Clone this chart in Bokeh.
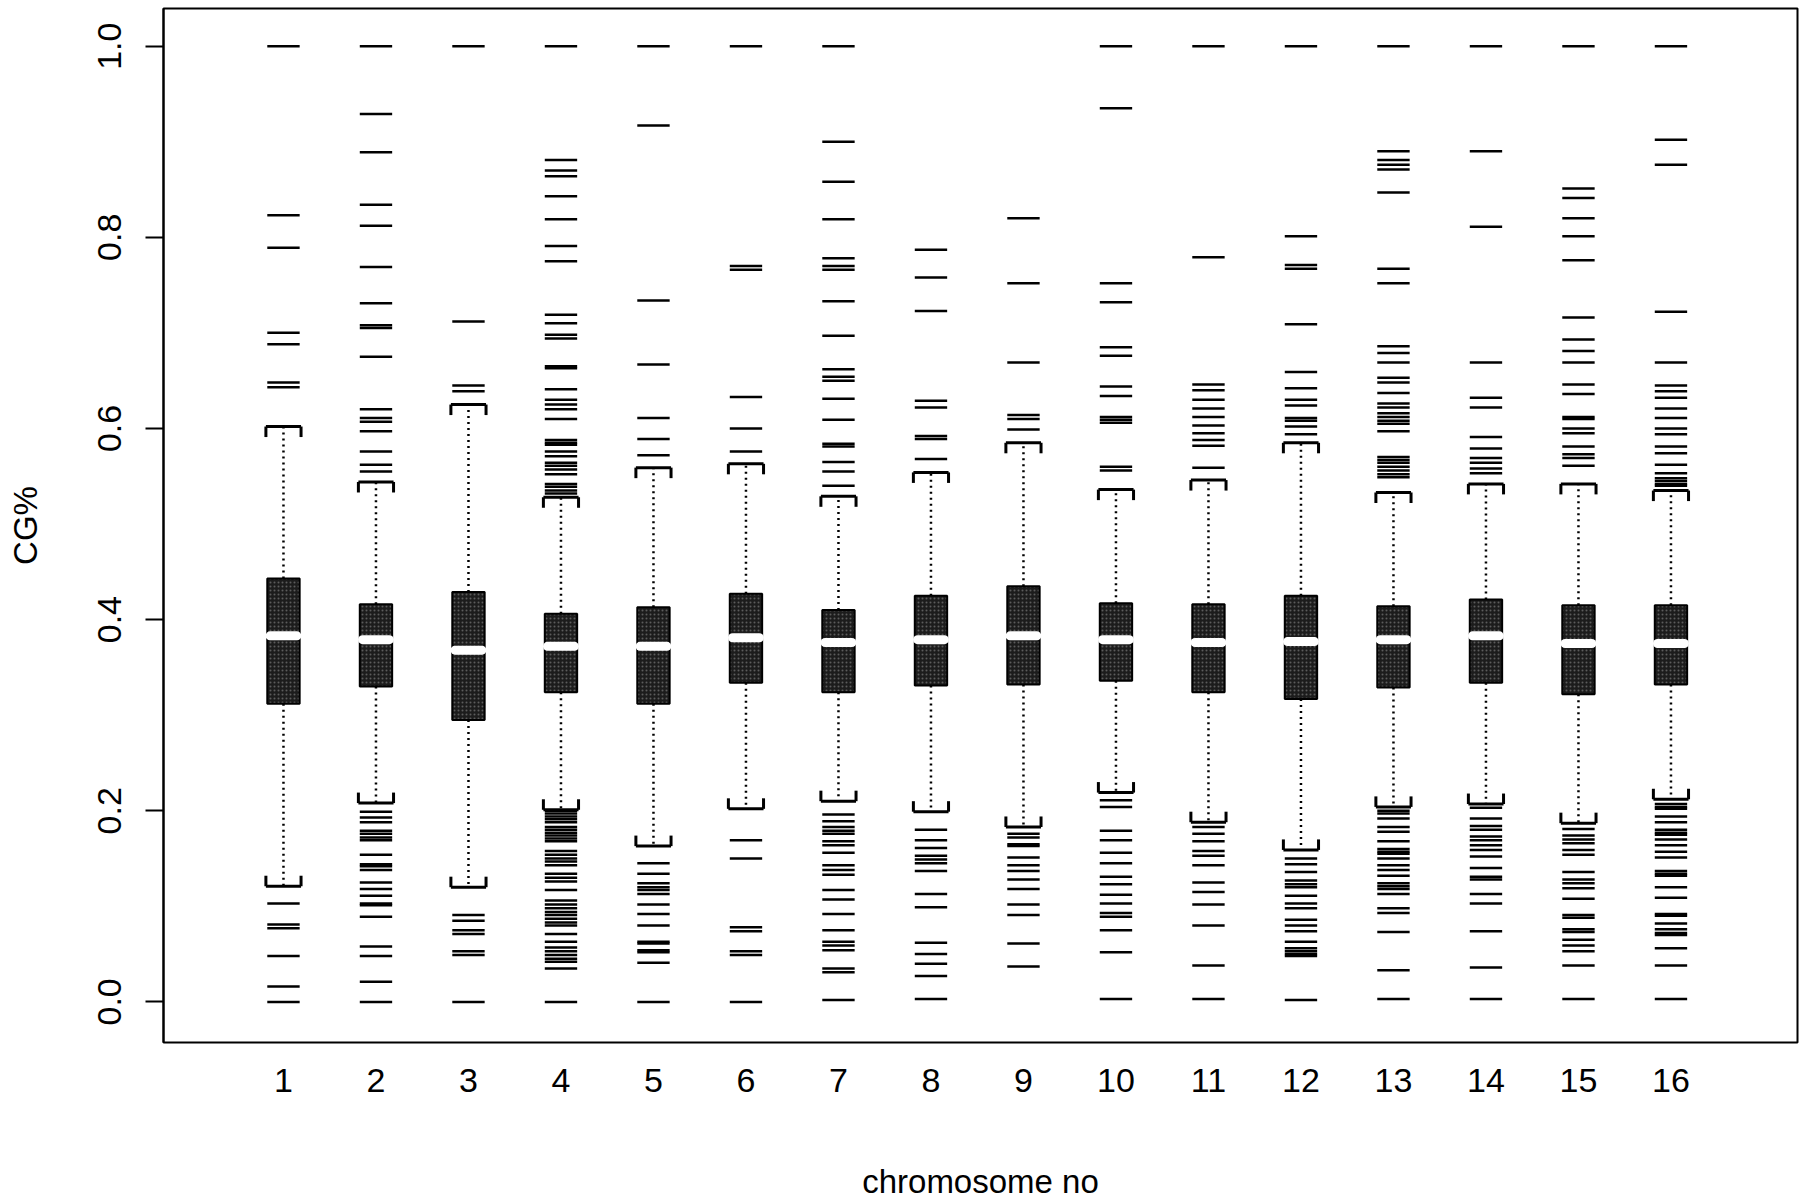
from bokeh.plotting import figure
from bokeh.models import Range1d, FixedTicker, PrintfTickFormatter
from bokeh.embed import file_html
from bokeh.resources import INLINE

# ---------------- data ----------------
chroms = list(range(1, 17))
q3 = [0.443, 0.416, 0.429, 0.406, 0.413, 0.427, 0.410, 0.425,
      0.435, 0.417, 0.416, 0.425, 0.414, 0.421, 0.415, 0.415]
median = [0.383, 0.379, 0.368, 0.372, 0.372, 0.381, 0.376, 0.379,
          0.383, 0.379, 0.376, 0.377, 0.379, 0.383, 0.375, 0.375]
q1 = [0.312, 0.330, 0.295, 0.324, 0.312, 0.334, 0.324, 0.331,
      0.332, 0.336, 0.324, 0.317, 0.329, 0.334, 0.322, 0.332]
upper_whisker = [0.602, 0.544, 0.625, 0.528, 0.559, 0.563, 0.529, 0.554,
                 0.585, 0.536, 0.546, 0.585, 0.533, 0.542, 0.542, 0.535]
lower_whisker = [0.121, 0.208, 0.120, 0.201, 0.163, 0.202, 0.210, 0.199,
                 0.183, 0.219, 0.188, 0.159, 0.204, 0.207, 0.187, 0.212]

out1 = [1.0, 0.823, 0.789, 0.700, 0.688, 0.648, 0.643,
        0.103, 0.081, 0.077, 0.048, 0.016, 0.0]
out2 = [1.0, 0.929, 0.889, 0.834, 0.812, 0.769, 0.731, 0.708, 0.705, 0.675, 0.620,
        0.611, 0.607, 0.597, 0.576, 0.562, 0.555,
        0.199, 0.193, 0.188, 0.179, 0.176, 0.172, 0.169, 0.154, 0.144, 0.142, 0.138,
        0.125, 0.118, 0.111, 0.103, 0.101, 0.089, 0.058, 0.048, 0.021, 0.0]
out3 = [1.0, 0.712, 0.645, 0.639,
        0.091, 0.085, 0.075, 0.071, 0.053, 0.049, 0.0]
out4 = [1.0, 0.881, 0.870, 0.864, 0.843, 0.819, 0.791, 0.775, 0.719, 0.710, 0.698,
        0.694, 0.665, 0.663, 0.641, 0.630, 0.625, 0.620, 0.610, 0.588, 0.585, 0.583,
        0.576, 0.571, 0.564, 0.561, 0.557, 0.552, 0.542, 0.539, 0.535, 0.532,
        0.200, 0.197, 0.194, 0.191, 0.188, 0.183, 0.180, 0.177, 0.174, 0.171, 0.168,
        0.158, 0.154, 0.150, 0.147, 0.143, 0.134, 0.130, 0.126, 0.117, 0.106, 0.102,
        0.098, 0.094, 0.091, 0.087, 0.083, 0.080, 0.071, 0.063, 0.057, 0.053, 0.049,
        0.045, 0.042, 0.035, 0.0]
out5 = [1.0, 0.917, 0.734, 0.667, 0.611, 0.589, 0.572,
        0.145, 0.134, 0.124, 0.120, 0.117, 0.113, 0.102, 0.092, 0.080, 0.063, 0.061,
        0.054, 0.052, 0.041, 0.0]
out6 = [1.0, 0.770, 0.766, 0.633, 0.600, 0.576,
        0.169, 0.150, 0.078, 0.074, 0.053, 0.049, 0.0]
out7 = [1.0, 0.900, 0.858, 0.819, 0.778, 0.770, 0.766, 0.733, 0.697, 0.662, 0.654,
        0.650, 0.631, 0.609, 0.584, 0.581, 0.565, 0.555, 0.540,
        0.196, 0.189, 0.183, 0.179, 0.176, 0.168, 0.164, 0.156, 0.143, 0.138, 0.133,
        0.117, 0.107, 0.092, 0.075, 0.063, 0.059, 0.054, 0.035, 0.031, 0.002]
out8 = [0.787, 0.758, 0.723, 0.629, 0.622, 0.592, 0.589, 0.568,
        0.180, 0.169, 0.161, 0.153, 0.149, 0.145, 0.137, 0.113, 0.099, 0.062, 0.050,
        0.040, 0.027, 0.003]
out9 = [0.820, 0.752, 0.669, 0.614, 0.610, 0.599,
        0.176, 0.172, 0.165, 0.163, 0.151, 0.143, 0.137, 0.128, 0.118, 0.102, 0.091,
        0.061, 0.037]
out10 = [1.0, 0.935, 0.752, 0.732, 0.685, 0.676, 0.644, 0.634, 0.612, 0.609, 0.606,
         0.560, 0.556,
         0.211, 0.204, 0.179, 0.169, 0.156, 0.145, 0.131, 0.123, 0.112, 0.103, 0.093,
         0.089, 0.075, 0.052, 0.003]
out11 = [1.0, 0.779, 0.646, 0.640, 0.630, 0.621, 0.612, 0.603, 0.595, 0.588, 0.582,
         0.559,
         0.183, 0.176, 0.168, 0.158, 0.153, 0.143, 0.125, 0.115, 0.102, 0.080, 0.038,
         0.003]
out12 = [1.0, 0.801, 0.771, 0.767, 0.709, 0.659, 0.642, 0.630, 0.624, 0.611, 0.608,
         0.602, 0.594,
         0.150, 0.144, 0.136, 0.127, 0.123, 0.120, 0.111, 0.103, 0.098, 0.086, 0.080,
         0.074, 0.063, 0.056, 0.053, 0.050, 0.048, 0.002]
out13 = [1.0, 0.890, 0.881, 0.876, 0.871, 0.847, 0.767, 0.752, 0.686, 0.679, 0.669,
         0.653, 0.648, 0.637, 0.626, 0.622, 0.616, 0.612, 0.608, 0.605, 0.597, 0.570,
         0.567, 0.564, 0.560, 0.556, 0.552, 0.549,
         0.200, 0.197, 0.192, 0.183, 0.178, 0.168, 0.160, 0.157, 0.155, 0.150, 0.143,
         0.138, 0.132, 0.124, 0.121, 0.118, 0.113, 0.098, 0.093, 0.073, 0.033, 0.003]
out14 = [1.0, 0.890, 0.811, 0.669, 0.632, 0.622, 0.591, 0.579, 0.569, 0.564, 0.558,
         0.553,
         0.203, 0.192, 0.184, 0.180, 0.173, 0.169, 0.164, 0.159, 0.152, 0.140, 0.131,
         0.128, 0.113, 0.103, 0.074, 0.036, 0.003]
out15 = [1.0, 0.851, 0.841, 0.820, 0.801, 0.776, 0.716, 0.693, 0.681, 0.669, 0.646,
         0.636, 0.612, 0.610, 0.600, 0.595, 0.581, 0.573, 0.569, 0.561,
         0.181, 0.174, 0.170, 0.166, 0.159, 0.154, 0.136, 0.128, 0.124, 0.119, 0.108,
         0.091, 0.088, 0.076, 0.073, 0.065, 0.059, 0.053, 0.038, 0.003]
out16 = [1.0, 0.902, 0.876, 0.722, 0.669, 0.645, 0.639, 0.632, 0.621, 0.611, 0.600,
         0.594, 0.581, 0.574, 0.562, 0.553, 0.548, 0.545, 0.542, 0.540,
         0.207, 0.204, 0.202, 0.194, 0.188, 0.180, 0.177, 0.175, 0.170, 0.164, 0.157,
         0.151, 0.137, 0.134, 0.132, 0.120, 0.109, 0.092, 0.090, 0.082, 0.076, 0.072,
         0.070, 0.056, 0.038, 0.003]
outliers = [out1, out2, out3, out4, out5, out6, out7, out8,
            out9, out10, out11, out12, out13, out14, out15, out16]

y_ticks = [0.0, 0.2, 0.4, 0.6, 0.8, 1.0]

# ---------------- styles ----------------
FONT = "Liberation Sans"
BOX_W = 0.35
DASH_HALF = 0.175
STAPLE_HALF = 0.19
LEG = 0.011
MED_HALF = 0.145

p = figure(width=1800, height=1202,
           x_range=Range1d(-0.297, 17.368), y_range=Range1d(-0.0425, 1.0394),
           output_backend="svg", toolbar_location=None,
           min_border_left=163, min_border_right=3,
           min_border_top=8, min_border_bottom=158)
p.background_fill_color = "white"
p.border_fill_color = "white"
p.outline_line_color = "black"
p.outline_line_width = 2
p.xgrid.visible = False
p.ygrid.visible = False

# whiskers (dotted)
p.segment(x0=chroms, y0=q3, x1=chroms, y1=upper_whisker,
          line_color="black", line_width=2.5, line_dash="2 4")
p.segment(x0=chroms, y0=q1, x1=chroms, y1=lower_whisker,
          line_color="black", line_width=2.5, line_dash="2 4")

# staples (bracket shaped)
xl = [c - STAPLE_HALF for c in chroms]
xr = [c + STAPLE_HALF for c in chroms]
p.segment(x0=xl, y0=upper_whisker, x1=xr, y1=upper_whisker, line_color="black", line_width=3)
p.segment(x0=xl, y0=lower_whisker, x1=xr, y1=lower_whisker, line_color="black", line_width=3)
uw_leg = [w - LEG for w in upper_whisker]
lw_leg = [w + LEG for w in lower_whisker]
p.segment(x0=xl, y0=upper_whisker, x1=xl, y1=uw_leg, line_color="black", line_width=3)
p.segment(x0=xr, y0=upper_whisker, x1=xr, y1=uw_leg, line_color="black", line_width=3)
p.segment(x0=xl, y0=lower_whisker, x1=xl, y1=lw_leg, line_color="black", line_width=3)
p.segment(x0=xr, y0=lower_whisker, x1=xr, y1=lw_leg, line_color="black", line_width=3)

# boxes
p.vbar(x=chroms, width=BOX_W, top=q3, bottom=q1,
       fill_color="#1c1c1c", line_color="black", line_width=2,
       hatch_pattern="dot", hatch_color="#5c5c5c", hatch_scale=4, hatch_weight=1)

# medians
p.segment(x0=[c - MED_HALF for c in chroms], y0=median,
          x1=[c + MED_HALF for c in chroms], y1=median,
          line_color="white", line_width=9, line_cap="round")

# outliers as horizontal dashes
ox0, ox1, oy = [], [], []
for c, vals in zip(chroms, outliers):
    for v in vals:
        ox0.append(c - DASH_HALF)
        ox1.append(c + DASH_HALF)
        oy.append(v)
p.segment(x0=ox0, y0=oy, x1=ox1, y1=oy, line_color="black", line_width=2.5)

# axes
xa = p.xaxis[0]
xa.ticker = FixedTicker(ticks=chroms)
xa.axis_line_color = None
xa.major_tick_line_color = None
xa.minor_tick_line_color = None
xa.major_label_text_font = FONT
xa.major_label_text_font_size = "34px"
xa.major_label_text_color = "black"
xa.major_label_standoff = 20
xa.axis_label = "chromosome no"
xa.axis_label_text_font = FONT
xa.axis_label_text_font_size = "33px"
xa.axis_label_text_font_style = "normal"
xa.axis_label_text_color = "black"
xa.axis_label_standoff = 68

ya = p.yaxis[0]
ya.ticker = FixedTicker(ticks=y_ticks)
ya.formatter = PrintfTickFormatter(format="%.1f")
ya.axis_line_color = "black"
ya.axis_line_width = 2
ya.major_tick_line_color = "black"
ya.major_tick_line_width = 2
ya.major_tick_in = 0
ya.major_tick_out = 18
ya.minor_tick_line_color = None
ya.major_label_orientation = "vertical"
ya.major_label_text_font = FONT
ya.major_label_text_font_size = "34px"
ya.major_label_text_color = "black"
ya.major_label_standoff = 24
ya.axis_label = "CG%"
ya.axis_label_text_font = FONT
ya.axis_label_text_font_size = "33px"
ya.axis_label_text_font_style = "normal"
ya.axis_label_text_color = "black"
ya.axis_label_standoff = 52

open("out.html", "w").write(file_html(p, INLINE))
